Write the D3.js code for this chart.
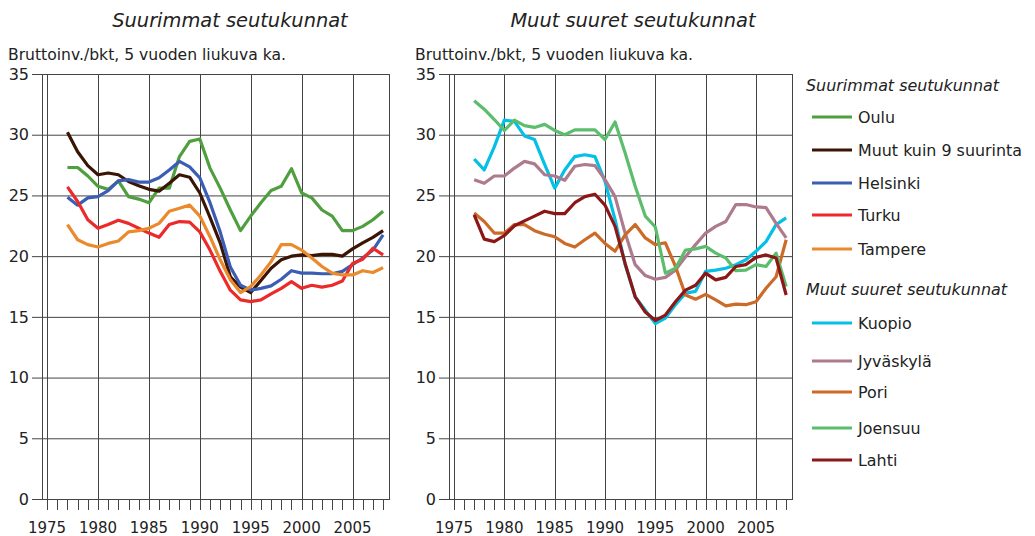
<!DOCTYPE html>
<html>
<head>
<meta charset="utf-8">
<script src="https://cdn.jsdelivr.net/npm/d3@7"></script>
<style>
  body { margin: 0; background: #fff; }
  svg text { font-family: "DejaVu Sans", sans-serif; fill: #222; }
</style>
</head>
<body>
<svg id="chart" width="1035" height="536"></svg>
<script>
const years = [1977, 1978, 1979, 1980, 1981, 1982, 1983, 1984, 1985, 1986, 1987, 1988, 1989, 1990,
  1991, 1992, 1993, 1994, 1995, 1996, 1997, 1998, 1999, 2000, 2001, 2002, 2003, 2004, 2005, 2006, 2007, 2008];
const yearLabels = [1975, 1980, 1985, 1990, 1995, 2000, 2005];
const yTicks = [0, 5, 10, 15, 20, 25, 30, 35];

// Suurimmat seutukunnat
const oulu = [27.3, 27.3, 26.6, 25.75, 25.5, 26.2, 24.9, 24.7, 24.4, 25.6, 25.6, 28.2, 29.45, 29.65,
  27.25, 25.6, 23.8, 22.1, 23.3, 24.4, 25.4, 25.75, 27.2, 25.2, 24.8, 23.8, 23.3, 22.1, 22.1, 22.45, 23.0, 23.7];
const muut9 = [30.2, 28.6, 27.45, 26.7, 26.85, 26.7, 26.15, 25.8, 25.5, 25.35, 26.0, 26.7, 26.5, 25.2,
  23.2, 21.1, 18.3, 17.45, 17.0, 18.0, 19.0, 19.7, 20.0, 20.1, 20.05, 20.15, 20.15, 20.0, 20.6, 21.1, 21.55, 22.1];
const helsinki = [24.85, 24.2, 24.8, 24.9, 25.4, 26.2, 26.3, 26.1, 26.1, 26.45, 27.1, 27.8, 27.35, 26.45,
  24.4, 22.0, 19.1, 17.6, 17.2, 17.35, 17.55, 18.1, 18.8, 18.6, 18.6, 18.55, 18.55, 18.75, 19.3, 19.85, 20.5, 21.75];
const turku = [25.7, 24.5, 23.0, 22.3, 22.6, 22.95, 22.7, 22.3, 21.9, 21.55, 22.6, 22.85, 22.8, 22.0,
  20.5, 18.75, 17.2, 16.4, 16.25, 16.4, 16.9, 17.35, 17.9, 17.35, 17.6, 17.45, 17.6, 17.95, 19.4, 19.75, 20.65, 20.1];
const tampere = [22.6, 21.35, 20.95, 20.75, 21.05, 21.25, 22.0, 22.1, 22.3, 22.7, 23.7, 23.95, 24.2, 23.3,
  21.6, 19.7, 18.05, 17.0, 17.5, 18.45, 19.55, 20.95, 20.95, 20.5, 19.85, 19.15, 18.6, 18.45, 18.45, 18.8, 18.65, 19.05];

// Muut suuret seutukunnat
const kuopio = [28.0, 27.1, 29.0, 31.2, 31.1, 29.9, 29.6, 27.55, 25.6, 27.1, 28.2, 28.35, 28.2, 26.15,
  23.0, 19.3, 16.65, 15.55, 14.45, 14.9, 16.0, 16.95, 17.1, 18.75, 18.85, 19.0, 19.3, 19.7, 20.4, 21.2, 22.6, 23.15];
const jyvaskyla = [26.3, 26.0, 26.6, 26.6, 27.25, 27.8, 27.6, 26.7, 26.6, 26.25, 27.4, 27.55, 27.45, 26.3,
  24.9, 21.9, 19.3, 18.4, 18.1, 18.25, 18.85, 19.95, 20.95, 21.9, 22.45, 22.85, 24.25, 24.25, 24.05, 24.0, 22.7, 21.5];
const pori = [23.55, 22.85, 21.9, 21.9, 22.6, 22.6, 22.1, 21.8, 21.6, 21.05, 20.75, 21.35, 21.9, 21.05,
  20.4, 21.75, 22.6, 21.5, 20.95, 21.1, 19.15, 16.8, 16.45, 16.85, 16.4, 15.9, 16.05, 16.0, 16.25, 17.35, 18.3, 21.35];
const joensuu = [32.8, 32.1, 31.25, 30.35, 31.2, 30.75, 30.6, 30.85, 30.35, 30.0, 30.4, 30.4, 30.4, 29.6,
  31.05, 28.5, 25.75, 23.3, 22.4, 18.6, 19.0, 20.5, 20.6, 20.8, 20.25, 19.85, 18.8, 18.85, 19.3, 19.15, 20.25, 17.5];
const lahti = [23.4, 21.4, 21.2, 21.7, 22.5, 22.9, 23.3, 23.7, 23.5, 23.5, 24.4, 24.9, 25.1, 24.2,
  22.45, 19.4, 16.65, 15.4, 14.7, 15.15, 16.25, 17.2, 17.6, 18.6, 18.05, 18.25, 19.15, 19.3, 19.9, 20.1, 19.85, 16.8];

const groupA = [
  {name: "Oulu", values: oulu, color: "#4f9f3f"},
  {name: "Muut kuin 9 suurinta", values: muut9, color: "#3a1506"},
  {name: "Helsinki", values: helsinki, color: "#3b5db3"},
  {name: "Turku", values: turku, color: "#ec2a2a"},
  {name: "Tampere", values: tampere, color: "#ea8a2c"}
];
const groupB = [
  {name: "Kuopio", values: kuopio, color: "#04bfe6"},
  {name: "Jyväskylä", values: jyvaskyla, color: "#ad7a8e"},
  {name: "Pori", values: pori, color: "#cc6a28"},
  {name: "Joensuu", values: joensuu, color: "#5cbd6c"},
  {name: "Lahti", values: lahti, color: "#8c1717"}
];

const svg = d3.select("#chart");

function panel(left, right, title, titleX, series) {
  const top = 74, bottom = 499;
  const x = d3.scaleLinear().domain([1974.5, 2008.58]).range([left, right]);
  const y = d3.scaleLinear().domain([0, 35]).range([bottom, top]);
  const g = svg.append("g");

  g.append("text")
    .attr("x", titleX).attr("y", 27)
    .attr("text-anchor", "middle")
    .style("font-style", "italic").style("font-size", "19.4px")
    .text(title);
  g.append("text")
    .attr("x", left - 34).attr("y", 60)
    .style("font-size", "15.6px")
    .text("Bruttoinv./bkt, 5 vuoden liukuva ka.");

  // horizontal grid
  g.selectAll(".hgrid").data(yTicks).join("line")
    .attr("x1", left - 10).attr("x2", right)
    .attr("y1", d => y(d) + 0.5).attr("y2", d => y(d) + 0.5)
    .attr("stroke", "#444").attr("stroke-width", 1);
  g.selectAll(".ylab").data(yTicks).join("text")
    .attr("x", left - 13).attr("y", d => y(d))
    .attr("dy", "0.36em").attr("text-anchor", "end")
    .style("font-size", "16px")
    .text(d => d);

  // vertical grid
  g.selectAll(".vgrid").data(yearLabels).join("line")
    .attr("x1", d => Math.round(x(d)) + 0.5).attr("x2", d => Math.round(x(d)) + 0.5)
    .attr("y1", top).attr("y2", bottom)
    .attr("stroke", "#444").attr("stroke-width", 1);
  // frame
  g.append("rect")
    .attr("x", left + 0.5).attr("y", top + 0.5)
    .attr("width", right - left).attr("height", bottom - top)
    .attr("fill", "none").attr("stroke", "#444");

  // year ticks
  const tickYears = d3.range(1975, 2009);
  g.selectAll(".xtick").data(tickYears).join("line")
    .attr("x1", d => Math.round(x(d)) + 0.5).attr("x2", d => Math.round(x(d)) + 0.5)
    .attr("y1", bottom).attr("y2", bottom + 11)
    .attr("stroke", "#444");
  g.selectAll(".xlab").data(yearLabels).join("text")
    .attr("x", d => x(d)).attr("y", 533)
    .attr("text-anchor", "middle")
    .style("font-size", "15px")
    .text(d => d);

  const line = d3.line()
    .x((d, i) => x(years[i]))
    .y(d => y(d));
  g.selectAll(".series").data(series).join("path")
    .attr("d", d => line(d.values))
    .attr("fill", "none")
    .attr("stroke", d => d.color)
    .attr("stroke-width", 3.2)
    .attr("stroke-linejoin", "round");
}

panel(42, 389, "Suurimmat seutukunnat", 230, groupA);
panel(449, 792, "Muut suuret seutukunnat", 633, groupB);

// legend
const legend = svg.append("g");
function legendBlock(title, ty, series, rows) {
  legend.append("text")
    .attr("x", 806).attr("y", ty)
    .style("font-style", "italic").style("font-size", "15.9px")
    .text(title);
  series.forEach((s, i) => {
    const yy = rows[i];
    legend.append("line")
      .attr("x1", 812).attr("x2", 852)
      .attr("y1", yy).attr("y2", yy)
      .attr("stroke", s.color).attr("stroke-width", 3);
    legend.append("text")
      .attr("x", 858).attr("y", yy).attr("dy", "0.36em")
      .style("font-size", "15.9px")
      .text(s.name);
  });
}
legendBlock("Suurimmat seutukunnat", 91, groupA, [117, 150, 183, 215, 249]);
legendBlock("Muut suuret seutukunnat", 295, groupB, [323, 361, 392, 428, 460]);
</script>
</body>
</html>
